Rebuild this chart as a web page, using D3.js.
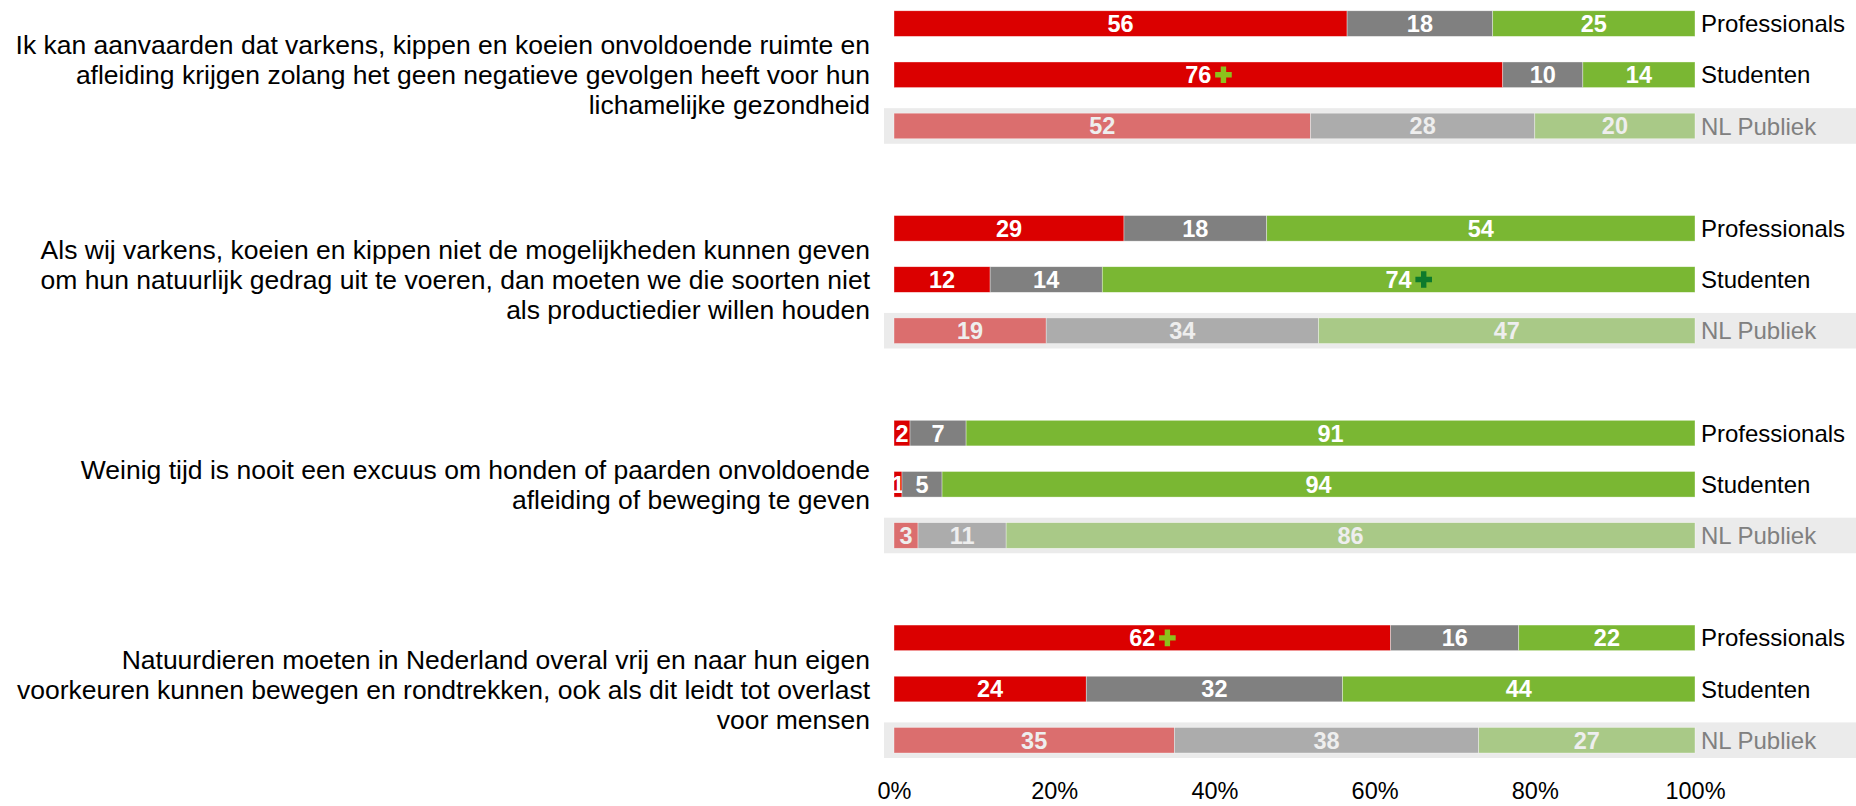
<!DOCTYPE html>
<html>
<head>
<meta charset="utf-8">
<script src="https://cdn.jsdelivr.net/npm/d3@7"></script>
<style>
  body { margin: 0; background: #fff; }
  text { font-family: "Liberation Sans", Arial, sans-serif; }
</style>
</head>
<body>
<svg id="chart"></svg>
<script>
// stellingen (links), per stelling 3 groepen
var questions = [
  ["Ik kan aanvaarden dat varkens, kippen en koeien onvoldoende ruimte en",
   "afleiding krijgen zolang het geen negatieve gevolgen heeft voor hun",
   "lichamelijke gezondheid"],
  ["Als wij varkens, koeien en kippen niet de mogelijkheden kunnen geven",
   "om hun natuurlijk gedrag uit te voeren, dan moeten we die soorten niet",
   "als productiedier willen houden"],
  ["Weinig tijd is nooit een excuus om honden of paarden onvoldoende",
   "afleiding of beweging te geven"],
  ["Natuurdieren moeten in Nederland overal vrij en naar hun eigen",
   "voorkeuren kunnen bewegen en rondtrekken, ook als dit leidt tot overlast",
   "voor mensen"]
];
var groups = ["Professionals", "Studenten", "NL Publiek"];
var answers = ["oneens", "neutraal", "eens"];

// percentages per rij (stelling x groep)
var oneens   = [56, 76, 52,  29, 12, 19,  2, 1, 3,   62, 24, 35];
var neutraal = [18, 10, 28,  18, 14, 34,  7, 5, 11,  16, 32, 38];
var eens     = [25, 14, 20,  54, 74, 47,  91, 94, 86, 22, 44, 27];

// significant hoger (+)
var plusMarks = [
  {row: 1, answer: "oneens"},
  {row: 4, answer: "eens"},
  {row: 9, answer: "oneens"}
];
var tickValues = [0, 0.2, 0.4, 0.6, 0.8, 1];

var width = 1856, height = 806;
var svg = d3.select("#chart").attr("width", width).attr("height", height);

var rows = oneens.map(function(v, i) {
  return {row: i, q: Math.floor(i / 3), group: groups[i % 3],
          oneens: v, neutraal: neutraal[i], eens: eens[i]};
});

var x = d3.scaleLinear().domain([0, 1]).range([894, 1695]);
var y = d3.scaleBand().domain(d3.range(16)).range([-2, 817])
    .paddingInner(0.5).paddingOuter(0.25);
function slot(r) { return r.q * 4 + (r.row % 3); }

var colors = {
  main: {oneens: "#db0000", neutraal: "#808080", eens: "#7ab733"},
  pub:  {oneens: "#db6e6e", neutraal: "#acacac", eens: "#a9c987"}
};

var series = d3.stack().keys(answers).offset(d3.stackOffsetExpand)(rows);

// grijze achtergrond voor NL Publiek
svg.selectAll(".pubband")
  .data(rows.filter(function(d) { return d.group == "NL Publiek"; }))
  .enter().append("rect")
  .attr("class", "pubband")
  .attr("x", 884).attr("width", width - 884)
  .attr("y", function(d) { return y(slot(d)) - 5; })
  .attr("height", y.bandwidth() + 10)
  .style("fill", "#ebebeb");

var seg = svg.selectAll(".serie")
  .data(series)
  .enter().append("g")
  .attr("class", "serie");

seg.selectAll("rect")
  .data(function(s) { return s.map(function(d) { d.key = s.key; return d; }); })
  .enter().append("rect")
  .attr("x", function(d) { return x(d[0]); })
  .attr("width", function(d) { return x(d[1]) - x(d[0]); })
  .attr("y", function(d) { return y(slot(d.data)); })
  .attr("height", y.bandwidth())
  .style("fill", function(d) {
    return d.data.group == "NL Publiek" ? colors.pub[d.key] : colors.main[d.key];
  })
  .style("stroke", "#fff").style("stroke-width", 0.6).style("stroke-opacity", 0.6);

var labels = seg.selectAll("text")
  .data(function(s) { return s; })
  .enter().append("text")
  .attr("x", function(d) { return x((d[0] + d[1]) / 2); })
  .attr("y", function(d) { return y(slot(d.data)) + y.bandwidth() / 2; })
  .attr("dy", "0.36em")
  .attr("text-anchor", "middle")
  .style("font-size", "23.5px").style("font-weight", "bold")
  .style("fill", function(d) { return d.data.group == "NL Publiek" ? "#eeeeee" : "#fff"; })
  .text(function(d) { return d.data[d.key]; });

// plus tekens
plusMarks.forEach(function(p) {
  var s = series[answers.indexOf(p.answer)];
  var d = s[p.row];
  var lbl = labels.filter(function(e) { return e === d; }).node();
  var w = lbl.getComputedTextLength();
  var cx = x((d[0] + d[1]) / 2) + w / 2 + 12;
  var cy = y(slot(d.data)) + y.bandwidth() / 2;
  var a = 8.3, t = 2.7;
  svg.append("path")
    .attr("d", "M" + (cx - t) + "," + (cy - a) + "h" + 2 * t + "v" + (a - t) + "h" + (a - t) +
      "v" + 2 * t + "h" + (t - a) + "v" + (a - t) + "h" + (-2 * t) + "v" + (t - a) +
      "h" + (t - a) + "v" + (-2 * t) + "h" + (a - t) + "z")
    .style("fill", p.answer == "eens" ? "#0e7a2c" : "#8cc21c");
});

// groepsnamen rechts
svg.selectAll(".grp")
  .data(rows)
  .enter().append("text")
  .attr("class", "grp")
  .attr("x", 1701)
  .attr("y", function(d) { return y(slot(d)) + y.bandwidth() / 2; })
  .attr("dy", "0.36em")
  .style("font-size", "24px")
  .style("fill", function(d) { return d.group == "NL Publiek" ? "#808080" : "#000"; })
  .text(function(d) { return d.group; });

// stellingen links
var q = svg.selectAll(".vraag")
  .data(questions)
  .enter().append("text")
  .attr("class", "vraag")
  .attr("text-anchor", "end")
  .style("font-size", "26.5px")
  .style("fill", "#000");
q.selectAll("tspan")
  .data(function(lines, i) {
    return lines.map(function(l, j) { return {t: l, j: j, n: lines.length, q: i}; });
  })
  .enter().append("tspan")
  .attr("x", 870)
  .attr("y", function(d) {
    var c = y(d.q * 4 + 1) + y.bandwidth() / 2;
    return c + (d.j - (d.n - 1) / 2) * 30;
  })
  .attr("dy", "0.36em")
  .text(function(d) { return d.t; });

// x-as
var xAxis = svg.append("g")
  .attr("transform", "translate(0,780)")
  .call(d3.axisBottom(x).tickValues(tickValues).tickFormat(d3.format(".0%")).tickSize(0));
xAxis.select(".domain").remove();
xAxis.selectAll("text")
  .attr("dy", "0.36em").attr("y", 11)
  .style("font-size", "23.5px").style("font-family", "Liberation Sans, Arial, sans-serif")
  .style("fill", "#000");
</script>
</body>
</html>
